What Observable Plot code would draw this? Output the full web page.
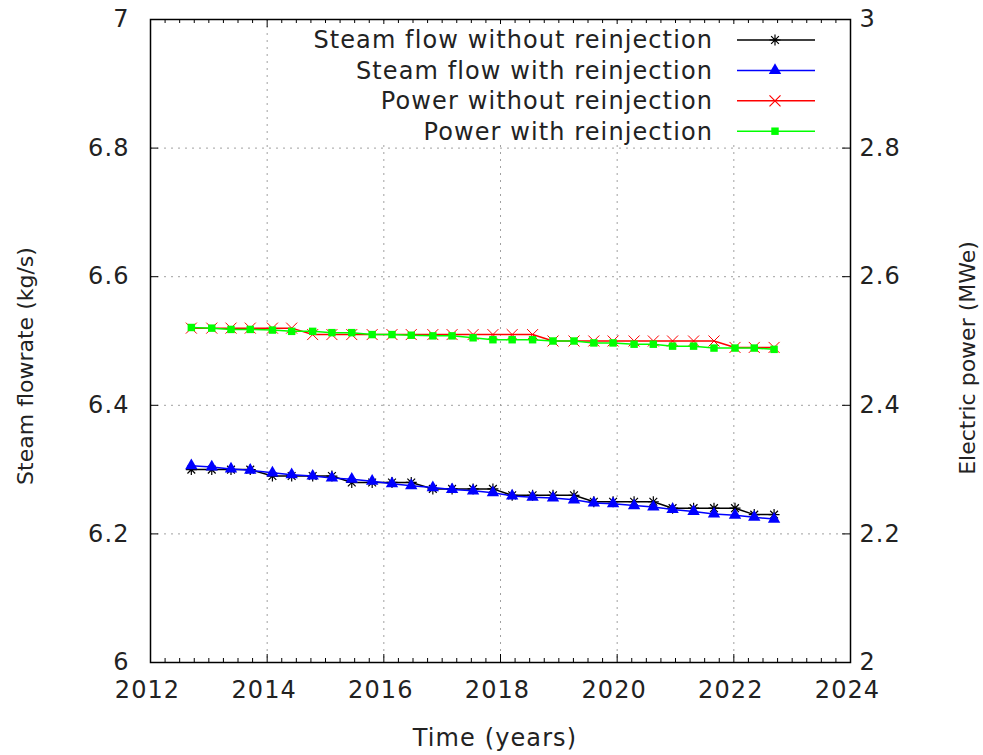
<!DOCTYPE html>
<html>
<head>
<meta charset="utf-8">
<script src="https://cdn.jsdelivr.net/npm/d3@7"></script>
<script src="https://cdn.jsdelivr.net/npm/@observablehq/plot@0.6"></script>
<style>
  html, body { margin: 0; padding: 0; background: #fff; }
  svg { display: block; }
</style>
</head>
<body>
<script>
// ---------- data ----------
const years = [2012.70, 2013.05, 2013.38, 2013.71, 2014.09, 2014.42, 2014.78, 2015.11, 2015.45, 2015.80,
               2016.14, 2016.47, 2016.84, 2017.17, 2017.53, 2017.87, 2018.20, 2018.55, 2018.90, 2019.26,
               2019.60, 2019.93, 2020.29, 2020.62, 2020.95, 2021.31, 2021.66, 2022.02, 2022.35, 2022.69];
const steamWithout = [6.30, 6.30, 6.30, 6.30, 6.29, 6.29, 6.29, 6.29, 6.28, 6.28,
                      6.28, 6.28, 6.27, 6.27, 6.27, 6.27, 6.26, 6.26, 6.26, 6.26,
                      6.25, 6.25, 6.25, 6.25, 6.24, 6.24, 6.24, 6.24, 6.23, 6.23];
const steamWith = [6.306, 6.304, 6.301, 6.299, 6.295, 6.292, 6.290, 6.287, 6.285, 6.282,
                   6.278, 6.275, 6.272, 6.269, 6.267, 6.264, 6.259, 6.257, 6.256, 6.253,
                   6.248, 6.247, 6.244, 6.242, 6.238, 6.235, 6.231, 6.229, 6.226, 6.223];
const powerWithout = [2.52, 2.52, 2.52, 2.52, 2.52, 2.52, 2.51, 2.51, 2.51, 2.51,
                      2.51, 2.51, 2.51, 2.51, 2.51, 2.51, 2.51, 2.51, 2.50, 2.50,
                      2.50, 2.50, 2.50, 2.50, 2.50, 2.50, 2.50, 2.49, 2.49, 2.49];
const powerWith = [2.521, 2.520, 2.518, 2.518, 2.517, 2.515, 2.515, 2.513, 2.513, 2.510,
                   2.510, 2.509, 2.508, 2.508, 2.505, 2.502, 2.502, 2.502, 2.500, 2.500,
                   2.497, 2.497, 2.495, 2.495, 2.492, 2.492, 2.489, 2.489, 2.489, 2.487];

const seriesNames = ["Steam flow without reinjection", "Steam flow with reinjection",
                     "Power without reinjection", "Power with reinjection"];
const xTickValues = [2012, 2014, 2016, 2018, 2020, 2022, 2024];
const yLeftTicks = [6, 6.2, 6.4, 6.6, 6.8, 7];
const yRightTicks = [2, 2.2, 2.4, 2.6, 2.8, 3];
const xLabel = "Time (years)";
const yLeftLabel = "Steam flowrate (kg/s)";
const yRightLabel = "Electric power (MWe)";

// right axis (power) shares the left scale with a constant shift
const axisShift = yLeftTicks[0] - yRightTicks[0];

// ---------- layout / style ----------
const W = 983, H = 755;
const mL = 150, mR = 133, mT = 19, mB = 93;
const plotW = W - mL - mR, plotH = H - mT - mB;
const FONT = "DejaVu Sans";
const FS = 24;
const LS = "1.1px";
const FS_ROT = 22;
const TEXT = "#222";
const colors = ["#000000", "#0000ff", "#ff0000", "#00ff00"];

const asterisk = {
  draw(ctx, size) {
    const r = Math.sqrt(size / Math.PI);
    const d = r * Math.SQRT1_2;
    ctx.moveTo(-r, 0); ctx.lineTo(r, 0);
    ctx.moveTo(0, -r); ctx.lineTo(0, r);
    ctx.moveTo(-d, -d); ctx.lineTo(d, d);
    ctx.moveTo(-d, d); ctx.lineTo(d, -d);
  }
};
const times = {
  draw(ctx, size) {
    const r = Math.sqrt(size / Math.PI);
    ctx.moveTo(-r, -r); ctx.lineTo(r, r);
    ctx.moveTo(-r, r); ctx.lineTo(r, -r);
  }
};

const rows = (vals, shift) => years.map((t, i) => ({t, v: vals[i] + shift}));
const s1 = rows(steamWithout, 0);
const s2 = rows(steamWith, 0);
const s3 = rows(powerWithout, axisShift);
const s4 = rows(powerWith, axisShift);

const minorX = d3.range(xTickValues[0], xTickValues[xTickValues.length - 1] + 1e-9, 0.25)
  .filter(v => !xTickValues.some(m => Math.abs(m - v) < 1e-6));
const gridX = xTickValues.slice(1, -1);
const gridY = yLeftTicks.slice(1, -1);

const chart = Plot.plot({
  width: W, height: H,
  marginLeft: mL, marginRight: mR, marginTop: mT, marginBottom: mB,
  style: {fontFamily: FONT, fontSize: FS + "px", background: "#fff", color: TEXT, letterSpacing: LS},
  x: {domain: [xTickValues[0], xTickValues[xTickValues.length - 1]]},
  y: {domain: [yLeftTicks[0], yLeftTicks[yLeftTicks.length - 1]]},
  marks: [
    Plot.ruleX(gridX, {x: d => d, stroke: "#a0a0a0", strokeWidth: 1, strokeDasharray: "2,5"}),
    Plot.ruleY(gridY, {y: d => d, stroke: "#a0a0a0", strokeWidth: 1, strokeDasharray: "2,5"}),
    // minor ticks (bottom + top)
    Plot.ruleX(minorX, {x: d => d, insetTop: plotH - 4, stroke: "#000"}),
    Plot.ruleX(minorX, {x: d => d, insetBottom: plotH - 4, stroke: "#000"}),
    // major ticks
    Plot.ruleX(xTickValues, {x: d => d, insetTop: plotH - 8, stroke: "#000"}),
    Plot.ruleX(xTickValues, {x: d => d, insetBottom: plotH - 8, stroke: "#000"}),
    Plot.ruleY(yLeftTicks, {y: d => d, insetRight: plotW - 8, stroke: "#000"}),
    Plot.ruleY(yLeftTicks, {y: d => d, insetLeft: plotW - 8, stroke: "#000"}),
    // series
    Plot.line(s1, {x: "t", y: "v", stroke: colors[0], strokeWidth: 1.5}),
    Plot.dot(s1, {x: "t", y: "v", symbol: asterisk, r: 5.5, stroke: colors[0], fill: "none", strokeWidth: 1.2}),
    Plot.line(s2, {x: "t", y: "v", stroke: colors[1], strokeWidth: 1.5}),
    Plot.dot(s2, {x: "t", y: "v", symbol: "triangle", r: 4.6, fill: colors[1], stroke: "none"}),
    Plot.line(s3, {x: "t", y: "v", stroke: colors[2], strokeWidth: 1.5}),
    Plot.dot(s3, {x: "t", y: "v", symbol: times, r: 5.5, stroke: colors[2], fill: "none", strokeWidth: 1}),
    Plot.line(s4, {x: "t", y: "v", stroke: colors[3], strokeWidth: 1.5}),
    Plot.dot(s4, {x: "t", y: "v", symbol: "square", r: 4.2, fill: colors[3], stroke: "none"}),
    // axes (labels only, ticks drawn inward above)
    Plot.axisX(xTickValues, {tickSize: 0, tickPadding: 18, tickFormat: d => String(d), label: null, dx: -3}),
    Plot.axisY(yLeftTicks, {anchor: "left", tickSize: 0, tickPadding: 21, tickFormat: d => String(d), label: null}),
    Plot.axisY(yLeftTicks, {anchor: "right", tickSize: 0, tickPadding: 9,
      tickFormat: d => String(yRightTicks[yLeftTicks.indexOf(d)]), label: null}),
    Plot.frame({stroke: "#000", strokeWidth: 1.5})
  ]
});

const svg = d3.select(chart);
// axis titles
svg.append("text").text(xLabel)
  .attr("x", mL + plotW / 2 - 5).attr("y", H - 9)
  .attr("text-anchor", "middle").attr("font-family", FONT).attr("font-size", FS)
  .attr("letter-spacing", LS).attr("fill", TEXT);
svg.append("text").text(yLeftLabel)
  .attr("transform", `translate(${33},${366}) rotate(-90)`)
  .attr("text-anchor", "middle").attr("font-family", FONT).attr("font-size", FS_ROT)
  .attr("letter-spacing", "0px").attr("fill", TEXT);
svg.append("text").text(yRightLabel)
  .attr("transform", `translate(${975},${358}) rotate(-90)`)
  .attr("text-anchor", "middle").attr("font-family", FONT).attr("font-size", FS_ROT)
  .attr("letter-spacing", "0px").attr("fill", TEXT);

// legend (opaque key box, no border)
const legendSymbols = [
  {sym: asterisk, size: Math.PI * 5.5 * 5.5, fill: "none", stroke: true},
  {sym: d3.symbolTriangle, size: Math.PI * 4.6 * 4.6, fill: true, stroke: false},
  {sym: times, size: Math.PI * 5.5 * 5.5, fill: "none", stroke: true},
  {sym: d3.symbolSquare, size: Math.PI * 4.2 * 4.2, fill: true, stroke: false}
];
const lg = svg.insert("g", () => chart.querySelector("g[aria-label='line']"));
lg.append("rect").attr("x", 300).attr("y", 24).attr("width", 530).attr("height", 121).attr("fill", "#fff");
seriesNames.forEach((name, i) => {
  const y = 40 + i * 30.4;
  lg.append("text").text(name)
    .attr("x", 713).attr("y", y).attr("dy", "0.35em")
    .attr("text-anchor", "end").attr("font-family", FONT).attr("font-size", FS)
    .attr("letter-spacing", LS).attr("fill", TEXT);
  lg.append("line").attr("x1", 737).attr("x2", 815).attr("y1", y).attr("y2", y)
    .attr("stroke", colors[i]).attr("stroke-width", 1.5);
  const s = legendSymbols[i];
  lg.append("path").attr("d", d3.symbol(s.sym, s.size)())
    .attr("transform", `translate(775,${y})`)
    .attr("fill", s.fill === true ? colors[i] : "none")
    .attr("stroke", s.stroke ? colors[i] : "none")
    .attr("stroke-width", 1.2);
});

document.body.appendChild(chart);
</script>
</body>
</html>
